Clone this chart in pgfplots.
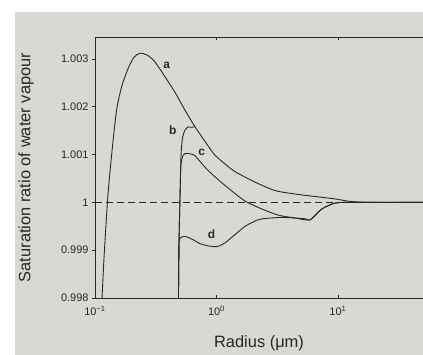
\documentclass[border=0pt]{standalone}
\usepackage{fontspec}
\setmainfont{Liberation Sans}
\usepackage{pgfplots}
\pgfplotsset{compat=1.18}
\usetikzlibrary{backgrounds}
\definecolor{bg}{RGB}{216,216,212}
\definecolor{ink}{RGB}{40,40,40}
\begin{document}
\begin{tikzpicture}
\begin{axis}[
  scale only axis, width=328bp, height=261bp,
  xmode=log, xmin=0.1, xmax=50.12, ymin=0.998, ymax=1.00346,
  xminorticks=false,
  scaled y ticks=false,
  axis line style={ink, line width=0.8bp},
  xtick={0.1,1,10},
  xticklabels={10\textsuperscript{−1},10\textsuperscript{0},10\textsuperscript{1}},
  ytick={0.998,0.999,1,1.001,1.002,1.003},
  yticklabels={0.998,0.999,1,1.001,1.002,1.003},
  ytick pos=left,
  xtick align=inside, ytick align=outside,
  major tick length=3bp,
  tick style={ink, line width=0.6bp},
  ticklabel style={font=\fontsize{11}{12}\selectfont, text=ink},
  x tick label style={yshift=-5bp},
  xlabel={Radius (μm)},
  ylabel={Saturation ratio of water vapour},
  label style={font=\fontsize{16.5}{18}\selectfont, text=ink},
  xlabel style={at={(axis description cs:0.5,-0.172)}, anchor=center},
  ylabel style={at={(axis description cs:-0.210,0.5)}, anchor=center},
  every axis plot/.append style={ink, line width=0.9bp},
]
% dashed reference line S = 1
\addplot[dash pattern=on 7bp off 4bp, line width=0.8bp] coordinates {(0.1,1) (50.12,1)};
% curve a
\addplot[smooth, tension=0.45] coordinates {
(0.1143,0.998) (0.1186,0.998833) (0.1268,1.000028) (0.1355,1.000867)
(0.1503,1.001916) (0.1667,1.002442) (0.1888,1.002822) (0.2094,1.003035)
(0.2344,1.003121) (0.2679,1.003084) (0.3062,1.002962) (0.3491,1.002757)
(0.3990,1.002531) (0.4550,1.002305) (0.5610,1.001892) (0.6653,1.001584)
(0.8356,1.001214) (0.9727,1.000988) (1.175,1.000805) (1.419,1.000644)
(2.075,1.000425) (3.027,1.000248) (4.426,1.000176) (6.471,1.000123)
(9.441,1.000073) (12.56,1.000021) (18.32,1.0) (50.12,1.0)};
% curve b
\addplot[smooth, tension=0.4] coordinates {
(0.4864,0.998) (0.4909,0.999086) (0.5012,1.000132) (0.5105,1.000969)
(0.5248,1.001347) (0.5508,1.001515) (0.5861,1.001579) (0.6223,1.001571)
(0.6653,1.001584)};
% curve c
\addplot[smooth, tension=0.4] coordinates {
(0.4864,0.998) (0.4909,0.999086) (0.5012,1.000132) (0.5071,1.00066)
(0.515,1.00087) (0.530,1.00098) (0.550,1.00102) (0.575,1.001025)
(0.6053,1.001016) (0.6653,1.000977) (0.8035,1.000738) (0.9727,1.000534)
(1.250,1.000299) (1.718,1.000028) (2.355,0.999864) (3.228,0.999733)
(4.426,0.999674) (5.888,0.999634) (7.345,0.99986) (9.441,0.999985)
(12.56,1.0) (50.12,1.0)};
% curve d
\addplot[smooth, tension=0.4] coordinates {
(0.4864,0.998) (0.4891,0.99866) (0.4915,0.99915) (0.5000,0.99924)
(0.5105,0.999265) (0.5346,0.999287) (0.5715,0.999278) (0.6412,0.999219)
(0.7311,0.999138) (0.8511,0.999091) (1.005,0.999075) (1.175,0.999153)
(1.419,0.999326) (1.718,0.999499) (2.075,0.999609) (2.366,0.999655)
(3.459,0.999686) (5.346,0.999659) (5.888,0.999634) (7.345,0.99986)
(9.441,0.999985) (12.56,1.0) (50.12,1.0)};
% curve labels
\node[font=\bfseries\fontsize{12}{12}\selectfont, text=ink] at (axis cs:0.389,1.002864) {a};
\node[font=\bfseries\fontsize{12}{12}\selectfont, text=ink] at (axis cs:0.4365,1.001502) {b};
\node[font=\bfseries\fontsize{12}{12}\selectfont, text=ink] at (axis cs:0.7551,1.00105) {c};
\node[font=\bfseries\fontsize{12}{12}\selectfont, text=ink] at (axis cs:0.912,0.999327) {d};
\end{axis}
\begin{scope}[on background layer]
\fill[white] ([shift={(-95bp,-57bp)}]current axis.south west) rectangle ([shift={(0bp,37bp)}]current axis.north east);
\fill[bg] ([shift={(-80bp,-57bp)}]current axis.south west) rectangle ([shift={(0bp,25bp)}]current axis.north east);
\end{scope}
\pgfresetboundingbox
\path[use as bounding box] ([shift={(-95bp,-57bp)}]current axis.south west) rectangle ([shift={(0bp,37bp)}]current axis.north east);
\end{tikzpicture}
\end{document}
